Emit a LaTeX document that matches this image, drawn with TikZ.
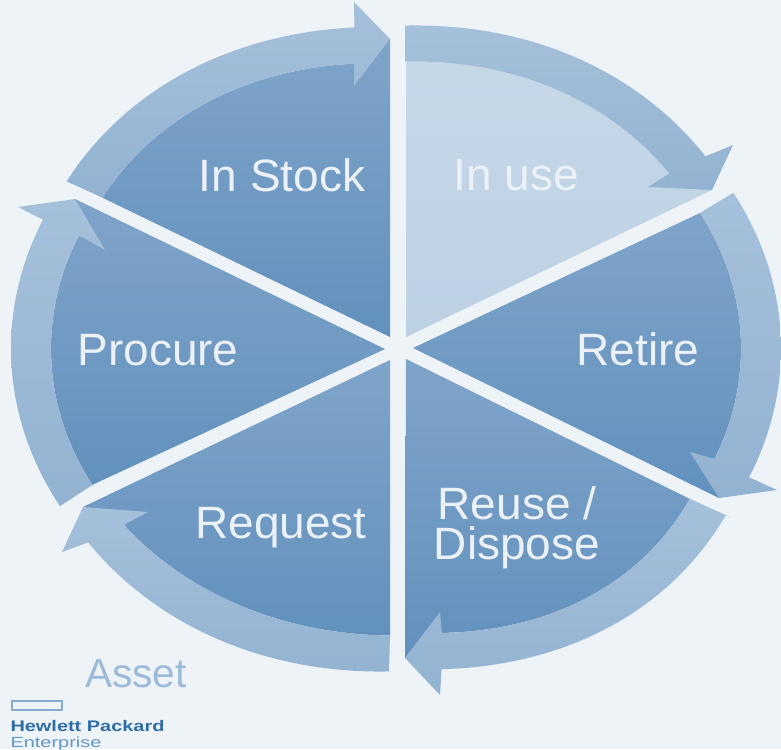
\documentclass[tikz,border=0pt]{standalone}
\usepackage{fontspec}
\setmainfont{Liberation Sans}
\definecolor{bgc}{HTML}{EEF3F8}
\definecolor{sectop}{HTML}{7FA4C9}
\definecolor{secbot}{HTML}{6291BD}
\definecolor{usetop}{HTML}{C6D8E8}
\definecolor{usebot}{HTML}{BDD1E4}
\definecolor{bandtop}{HTML}{A5C0DA}
\definecolor{bandbot}{HTML}{93B3D2}
\definecolor{labelc}{HTML}{EBF1F7}
\definecolor{assetc}{HTML}{9DBBD9}
\definecolor{hpdark}{HTML}{2F6DA5}
\definecolor{hplight}{HTML}{6496C4}
\definecolor{logoc}{HTML}{86ACD1}
\tikzset{
  oarc/.style n args={3}{insert path={-- plot[domain=#1:#2,samples=70,variable=\t]({396+385*(1+#3*sin(180*(\t-(#1))/((#2)-(#1))))*cos(\t)},{348.5+323*(1+#3*sin(180*(\t-(#1))/((#2)-(#1))))*sin(\t)})}},
  iarc/.style n args={3}{insert path={-- plot[domain=#1:#2,samples=70,variable=\t]({396+345*(1+#3*sin(180*(\t-(#1))/((#2)-(#1))))*cos(\t)},{348.5+287*(1+#3*sin(180*(\t-(#1))/((#2)-(#1))))*sin(\t)})}},
  sector/.style={top color=sectop,bottom color=secbot,draw=none},
  usesector/.style={top color=usetop,bottom color=usebot,draw=none},
  band/.style={top color=bandtop,bottom color=bandbot,draw=none},
  lab/.style={text=labelc,font=\fontsize{34}{30}\selectfont,align=center,inner sep=0pt,xscale=1.015},
}
\begin{document}
\begin{tikzpicture}[x=0.75pt,y=-0.75pt]
\useasboundingbox (0,0) rectangle (781,749);
\fill[bgc] (0,0) rectangle (781,749);
% sectors
\shade[usesector] (406,337) -- (406,62) [iarc={-88.5}{-37.6}{0.015}] -- (712,190) -- cycle;
\shade[sector] (413,348) -- (700,213) [iarc={-28.2}{22.6}{0}] -- (719,498) -- cycle;
\shade[sector] (406,359) -- (692,500) [iarc={31.6}{82.4}{0.03}] -- (405,658) -- cycle;
\shade[sector] (390,360) -- (390,637) [iarc={91}{142}{0.003}] -- (83,507) -- cycle;
\shade[sector] (385,349) -- (92,485) [iarc={151.6}{203.1}{0}] -- (75,199) -- cycle;
\shade[sector] (390,337) -- (103,198) [iarc={211.7}{263}{0.017}] -- (390,39) -- cycle;
% arrows
\shade[band] (405,25) [oarc={-88.7}{-36.5}{0.015}] -- (733,145) -- (712,190) -- (648,187) -- (670,173) [iarc={-37.6}{-88.5}{0.015}] -- cycle;
\shade[band] (733,193) [oarc={-28.8}{23.5}{0}] -- (777,490) -- (719,498) -- (690,452) -- (715,459) [iarc={22.6}{-28.2}{0}] -- cycle;
\shade[band] (730,517) [oarc={31}{83.2}{0.025}] -- (440,695) -- (405,658) -- (440,612) -- (442,635) [iarc={82.4}{31.6}{0.03}] -- cycle;
\shade[band] (389,673) [oarc={91}{143.1}{0.012}] -- (62,552) -- (83,507) -- (148,512) -- (127,523) [iarc={142}{91}{0.003}] -- cycle;
\shade[band] (60,506) [oarc={150.8}{203.5}{0}] -- (18,207) -- (75,199) -- (105,250) -- (82,237) [iarc={203.1}{151.6}{0}] -- cycle;
\shade[band] (68,182) [oarc={211.2}{263.8}{0.015}] -- (354,2) -- (390,39) -- (354,86) -- (354,62) [iarc={263}{211.7}{0.017}] -- cycle;
% labels
\node[lab] (stock) at (282,175) {In Stock};
\node[lab] (use) at (516,175) {In use};
\node[lab] (retire) at (638,349) {Retire};
\node[lab] (reuse) at (517,528) {Reuse /\\Dispose};
\node[lab] (request) at (281,528) {Request};
\node[lab] (procure) at (158,350) {Procure};
\node[text=assetc,font=\fontsize{30.5}{30}\selectfont,inner sep=0pt] (asset) at (136,674) {Asset};
\draw[logoc,line width=1.5pt,fill=bgc] (12,701) rectangle (62,710);
\node[text=hpdark,font=\fontsize{11.5}{12}\bfseries\selectfont,inner sep=0pt,xscale=1.3,anchor=base] (hp) at (87.5,731) {Hewlett Packard};
\node[text=hplight,font=\fontsize{11}{12}\selectfont,inner sep=0pt,xscale=1.36,anchor=base] (ent) at (56,747) {Enterprise};
\end{tikzpicture}
\end{document}
